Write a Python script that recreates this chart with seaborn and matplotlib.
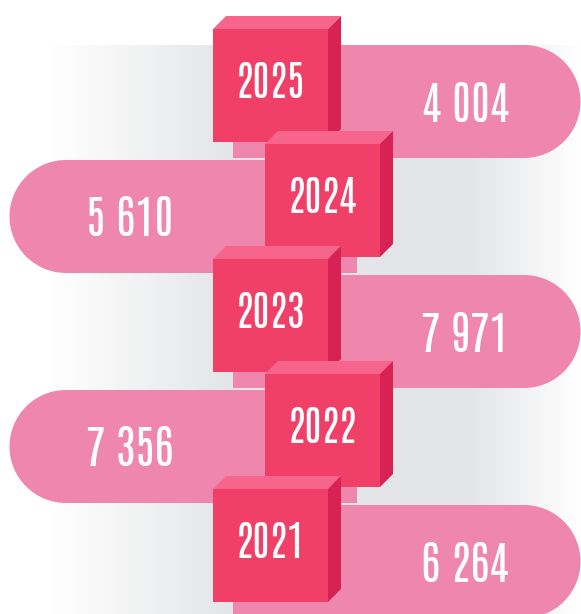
import numpy as np
import matplotlib
matplotlib.use("Agg")
import matplotlib.pyplot as plt
import seaborn as sns
from matplotlib.patches import Rectangle, Circle, Polygon

# data
years = ["2025", "2024", "2023", "2022", "2021"]
values = [4004, 5610, 7971, 7356, 6264]

sns.set_style("white")
plt.rcParams["font.family"] = ["Antonio", "Oswald", "DejaVu Sans"]

PILL = "#ef86ad"
FRONT = "#f04068"
TOP = "#f7648c"
SIDE = "#d82254"


def fmt(v):
    return f"{v:,}".replace(",", " ")


fig = plt.figure(figsize=(5.81, 6.14), dpi=100)
ax = fig.add_axes([0, 0, 1, 1])
ax.set_xlim(0, 581)
ax.set_ylim(614, 0)
ax.axis("off")

# grey gradient band behind the pills
xs = np.linspace(0, 581, 600)
prof = np.interp(xs, [0, 50, 230, 470, 581], [1.0, 1.0, 0.0, 0.0, 1.0])
c_lo = np.array([0.894, 0.898, 0.906])
grad = c_lo[None, :] + (1 - c_lo[None, :]) * prof[:, None]
ax.imshow(grad[None, :, :], extent=[0, 581, 614, 45], aspect="auto", zorder=0)

row_h = 113
step = 115
for i, (yr, val) in enumerate(zip(years, values)):
    top = 45 + i * step
    r = row_h / 2
    cy = top + r
    right = i % 2 == 0
    # pill
    if right:
        ax.add_patch(Rectangle((233, top), 524 - 233, row_h, color=PILL, lw=0, zorder=1))
        ax.add_patch(Circle((524, cy), r, color=PILL, lw=0, zorder=1))
        tx = 465
    else:
        ax.add_patch(Rectangle((66, top), 357 - 66, row_h, color=PILL, lw=0, zorder=1))
        ax.add_patch(Circle((66, cy), r, color=PILL, lw=0, zorder=1))
        tx = 130
    ax.text(tx, cy + 3, fmt(val), color="white", fontsize=33,
            ha="center", va="center", zorder=5)

for i, yr in enumerate(years):
    top = 45 + i * step
    x0 = 213 if i % 2 == 0 else 265
    y0 = top - 16
    w, h = 115, 113
    dx, dy = 13, 13
    z = 2 + i * 0.1
    ax.add_patch(Polygon([(x0, y0), (x0 + dx, y0 - dy), (x0 + w + dx, y0 - dy), (x0 + w, y0)],
                         closed=True, color=TOP, lw=0, zorder=z))
    ax.add_patch(Polygon([(x0 + w, y0), (x0 + w + dx, y0 - dy), (x0 + w + dx, y0 + h - dy), (x0 + w, y0 + h)],
                         closed=True, color=SIDE, lw=0, zorder=z))
    ax.add_patch(Rectangle((x0, y0), w, h, color=FRONT, lw=0, zorder=z))
    ax.text(x0 + w / 2, y0 + h / 2 - 3, yr, color="white", fontsize=30,
            ha="center", va="center", zorder=z + 0.05)

fig.savefig("out.png", dpi=100)
